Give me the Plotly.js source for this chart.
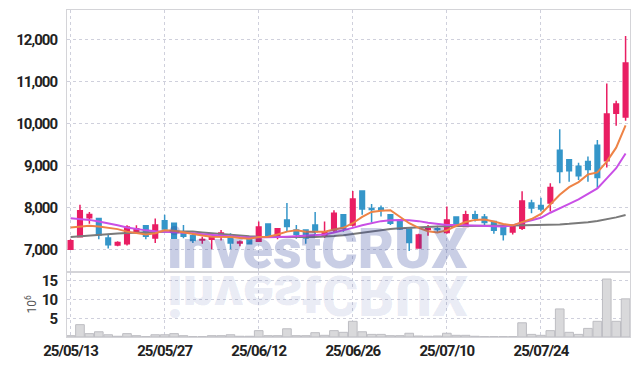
<!DOCTYPE html>
<html>
<head>
<meta charset="utf-8">
<script src="https://cdn.plot.ly/plotly-3.0.1.min.js"></script>
<style>
html,body{margin:0;padding:0;background:#fff;}
#wrap{position:relative;width:639px;height:366px;overflow:hidden;}
#chart{width:639px;height:366px;}
#refl{position:absolute;left:0;top:0;white-space:nowrap;pointer-events:none;
  font-family:Roboto,'Liberation Sans',sans-serif;font-weight:900;font-size:56px;line-height:56px;
  color:rgba(40,60,150,0.10);transform-origin:50% 47px;transform:scaleY(-1);}
.xtick text, .ytick text, .y2tick text, .x2tick text {letter-spacing:-1px;}
</style>
</head>
<body>
<div id="wrap"><div id="chart"></div><div id="refl">investCRUX</div></div>
<script>
const dates = ['25/05/13','25/05/14','25/05/15','25/05/16','25/05/19','25/05/20','25/05/21','25/05/22','25/05/23','25/05/26',
 '25/05/27','25/05/28','25/05/29','25/05/30','25/06/02','25/06/04','25/06/05','25/06/09','25/06/10','25/06/11',
 '25/06/12','25/06/13','25/06/16','25/06/17','25/06/18','25/06/19','25/06/20','25/06/23','25/06/24','25/06/25',
 '25/06/26','25/06/27','25/06/30','25/07/01','25/07/02','25/07/03','25/07/04','25/07/07','25/07/08','25/07/09',
 '25/07/10','25/07/11','25/07/14','25/07/15','25/07/16','25/07/17','25/07/18','25/07/21','25/07/22','25/07/23',
 '25/07/24','25/07/25','25/07/28','25/07/29','25/07/30','25/07/31','25/08/01','25/08/04','25/08/05','25/08/06'];

const openP  = [7000,7300,7750,7730,7270,7100,7130,7430,7560,7270, 7680,7620,7400,7320,7220,7240,7310,7300,7150,7290,
 7190,7600,7300,7700,7460,7460,7580,7310,7460,7820, 7580,8390,7970,7980,7820,7660,7480,7030,7470,7490,
 7400,7770,7540,7820,7770,7660,7540,7410,7500,8100, 8040,8100,9360,9130,8980,9090,9480,9110,10240,10150];
const highP  = [7240,8060,7890,7750,7340,7190,7570,7570,7570,7730, 7820,7640,7580,7400,7300,7310,7460,7380,7210,7310,
 7660,7610,7490,8100,7580,7470,7890,7660,7930,7830, 8390,8400,8080,8040,7840,7700,7490,7370,7580,7560,
 8020,7780,7920,7920,7840,7670,7550,7550,8380,8180, 8230,8570,9860,9140,9060,9210,9600,10950,10540,12080];
const lowP   = [6980,7290,7610,7240,7020,7070,7090,7370,7240,7150, 7420,7250,7260,7150,7130,7000,7210,7000,7070,7120,
 7180,7280,7240,7420,7250,7130,7340,7270,7400,7420, 7540,7820,7640,7780,7580,7460,6960,7020,7320,7390,
 7370,7540,7530,7660,7580,7370,7210,7350,7460,7860, 7900,7900,8570,8610,8650,8610,8450,8950,9940,10060];
const closeP = [7200,7920,7830,7340,7110,7160,7530,7490,7310,7580, 7480,7260,7310,7210,7230,7300,7390,7150,7170,7130,
 7530,7300,7490,7540,7360,7270,7420,7400,7860,7500, 8200,7960,7950,7930,7620,7480,7160,7340,7490,7470,
 7700,7620,7820,7740,7640,7450,7350,7540,8150,7980, 7960,8470,8850,8870,8750,8900,8710,10220,10460,11440];

const ma5  = [7520,7540,7560,7540,7510,7480,7420,7380,7350,7380, 7450,7440,7400,7370,7330,7300,7300,7290,7270,7250,
 7290,7300,7350,7420,7450,7420,7420,7420,7470,7510, 7620,7770,7890,7920,7930,7780,7620,7510,7430,7400,
 7450,7560,7650,7700,7710,7660,7600,7570,7640,7720, 7840,8060,8300,8480,8600,8780,8830,9090,9420,9950];
const ma10 = [7740,7720,7700,7660,7620,7570,7520,7480,7450,7430, 7420,7410,7400,7380,7360,7340,7320,7300,7290,7280,
 7280,7280,7290,7300,7310,7320,7330,7350,7400,7450, 7510,7570,7620,7670,7690,7700,7690,7670,7630,7600,
 7580,7575,7565,7560,7555,7545,7540,7570,7640,7690, 7750,7870,7970,8080,8190,8320,8450,8690,8930,9280];
const ma60 = [7290,7310,7330,7345,7360,7375,7390,7400,7410,7418, 7422,7424,7424,7422,7400,7380,7360,7340,7325,7310,
 7300,7295,7292,7290,7290,7292,7295,7300,7315,7335, 7365,7395,7430,7460,7480,7500,7515,7528,7538,7545,
 7550,7555,7558,7560,7562,7563,7564,7565,7568,7572, 7578,7585,7592,7605,7620,7645,7675,7715,7760,7815];

const volume = [0.35,3.3,0.9,1.4,0.6,0.2,0.9,0.35,0.1,0.6, 0.6,0.9,0.35,0.1,0.1,0.35,0.35,0.6,0.2,0.2,
 1.7,0.35,0.35,2.2,0.35,0.35,1.15,0.45,1.7,1.25, 4.2,1.4,0.7,0.7,0.35,0.35,1.0,0.27,0.2,0.27,
 1.0,0.45,0.45,0.2,0.1,0.1,0.1,0.1,3.8,0.7, 0.45,1.7,7.5,1.25,0.7,2.3,4.2,15.5,4.2,10.2];

const priceTicks = [7000,8000,9000,10000,11000,12000];
const volTicks = [5,10,15];
const dateTickIdx = [0,10,20,30,40,50];

const UP = '#E91E63', DOWN = '#3596C9';
const gridC = '#cfd0dc', lineC = '#d4d4d8';
const tickFont = {family:"Roboto,'Liberation Sans',sans-serif", size:15, color:'#222', weight:700};

const traces = [
  {type:'scatter', mode:'lines', x:dates, y:ma60, xaxis:'x', yaxis:'y', line:{color:'#7a7a7a', width:2}, showlegend:false, hoverinfo:'skip'},
  {type:'scatter', mode:'lines', x:dates, y:ma10, xaxis:'x', yaxis:'y', line:{color:'#C94FE6', width:2}, showlegend:false, hoverinfo:'skip'},
  {type:'scatter', mode:'lines', x:dates, y:ma5, xaxis:'x', yaxis:'y', line:{color:'#EE8346', width:2}, showlegend:false, hoverinfo:'skip'},
  {type:'candlestick', x:dates, open:openP, high:highP, low:lowP, close:closeP, xaxis:'x', yaxis:'y',
   increasing:{line:{color:UP,width:1.5}, fillcolor:UP}, decreasing:{line:{color:DOWN,width:1.5}, fillcolor:DOWN},
   whiskerwidth:0, hoverinfo:'skip', showlegend:false},
  {type:'bar', x:dates, y:volume, xaxis:'x2', yaxis:'y2', marker:{color:'#d9d9db', line:{color:'#bdbdc2', width:1}},
   showlegend:false, hoverinfo:'skip'}
];

const xr = [-0.38, 59.47];
const layout = {
  width:639, height:366,
  margin:{l:67, r:9, t:10, b:29},
  paper_bgcolor:'#fff', plot_bgcolor:'#fff',
  bargap:0.08,
  xaxis:{type:'category', domain:[0,1], anchor:'y', range:xr, rangeslider:{visible:false},
    tickvals:dateTickIdx.map(i=>dates[i]), showticklabels:false, ticks:'',
    showgrid:true, gridcolor:gridC, griddash:'dot', gridwidth:1,
    showline:true, linecolor:lineC, linewidth:1, mirror:true, zeroline:false},
  xaxis2:{type:'category', domain:[0,1], anchor:'y2', range:xr, matches:'x',
    tickvals:dateTickIdx.map(i=>dates[i]), ticktext:dateTickIdx.map(i=>dates[i]), tickfont:tickFont,
    ticks:'', ticklabelstandoff:0,
    showgrid:true, gridcolor:gridC, griddash:'dot', gridwidth:1,
    showline:true, linecolor:lineC, linewidth:1, mirror:true, zeroline:false},
  yaxis:{domain:[0.199,1], anchor:'x', range:[6460,12700], tickvals:priceTicks, tickformat:',d', tickfont:tickFont,
    ticks:'', ticklabelstandoff:6,
    showgrid:true, gridcolor:gridC, griddash:'dot', gridwidth:1,
    showline:true, linecolor:lineC, linewidth:1, mirror:true, zeroline:false},
  yaxis2:{domain:[0,0.199], anchor:'x2', range:[0,17.4], tickvals:volTicks, tickfont:tickFont,
    ticks:'', ticklabelstandoff:6,
    title:{text:'10<sup>6</sup>', font:{family:'Roboto, sans-serif', size:12, color:'#555'}, standoff:2},
    showgrid:true, gridcolor:gridC, griddash:'dot', gridwidth:1,
    showline:true, linecolor:lineC, linewidth:1, mirror:true, zeroline:false},
  annotations:[{text:'investCRUX', xref:'paper', yref:'paper', x:0.445, y:0.199, xanchor:'center', yanchor:'bottom',
    yshift:-12, showarrow:false, font:{family:'Roboto, Liberation Sans, sans-serif', size:56, weight:900, color:'rgba(40,60,150,0.25)'}}]
};

Plotly.newPlot('chart', traces, layout, {staticPlot:true, displayModeBar:false}).then(()=>{
  const r = document.getElementById('refl');
  const w = r.getBoundingClientRect().width;
  r.style.left = (67 + 0.445*563 - w/2) + 'px';
  r.style.top = (276 - 47) + 'px';
});
</script>
</body>
</html>
